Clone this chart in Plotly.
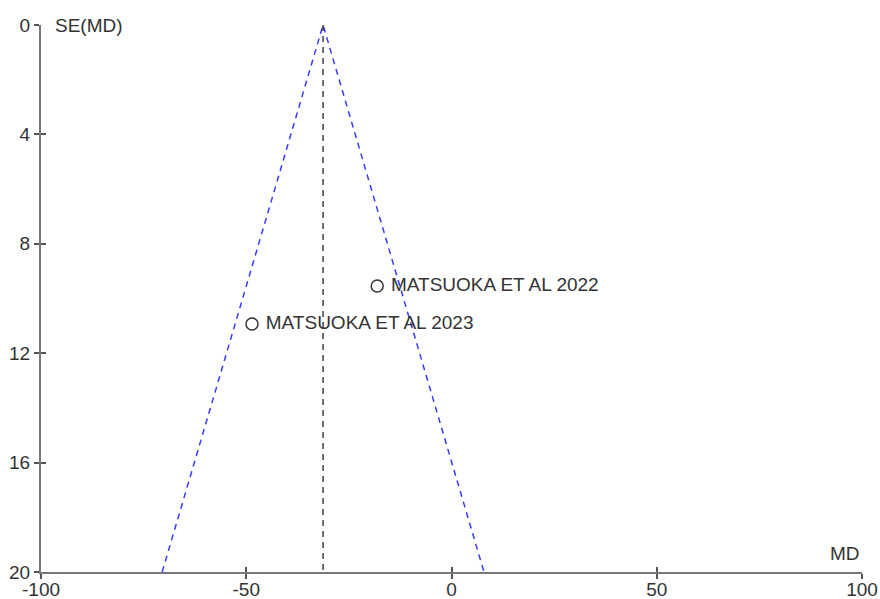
import plotly.graph_objects as go

# Study estimates: mean difference and its standard error
studies = ["MATSUOKA ET AL 2022", "MATSUOKA ET AL 2023"]
md = [-18.1, -48.6]
se = [9.54, 10.93]

x_ticks = [-100, -50, 0, 50, 100]
x_labels = ["-100", "-50", "0", "50", "100"]
y_ticks = [0, 4, 8, 12, 16, 20]
se_max = 20

# Fixed-effect (inverse-variance) pooled estimate
w = [1 / s ** 2 for s in se]
pooled = sum(wi * m for wi, m in zip(w, md)) / sum(w)

font = dict(family="Liberation Sans, Arial, sans-serif", size=19, color="#333333")

fig = go.Figure()

# 95% pseudo-confidence funnel
fig.add_trace(go.Scatter(
    x=[pooled - 1.96 * se_max, pooled, pooled + 1.96 * se_max],
    y=[se_max, 0, se_max],
    mode="lines",
    line=dict(color="#3a3aff", width=1.5, dash="6px,5px"),
    hoverinfo="skip",
))

# Pooled estimate line
fig.add_trace(go.Scatter(
    x=[pooled, pooled], y=[0, se_max],
    mode="lines",
    line=dict(color="#222222", width=1.3, dash="6px,5px"),
    hoverinfo="skip",
))

# Individual studies
fig.add_trace(go.Scatter(
    x=md, y=se, text=[" " + s for s in studies],
    mode="markers+text",
    textposition="middle right",
    textfont=font,
    marker=dict(symbol="circle-open", size=12, color="#333333", line=dict(width=1.5)),
))

axis_common = dict(
    showgrid=False, zeroline=False, automargin=False,
    showline=True, linecolor="#777777", linewidth=2,
    ticks="outside", ticklen=5, tickwidth=1.5, tickcolor="#555555",
    tickfont=font,
)

inner_ticks = dict(
    ticks="inside", ticklen=5, tickwidth=1.5, tickcolor="#555555",
    showticklabels=False, showgrid=False, zeroline=False, showline=False,
    automargin=False,
)

fig.update_layout(
    width=880, height=599,
    margin=dict(l=41, r=18, t=25, b=27),
    plot_bgcolor="white", paper_bgcolor="white",
    showlegend=False,
    xaxis=dict(range=[-100, 100], tickvals=x_ticks, ticktext=x_labels,
               ticklabelstandoff=-6, **axis_common),
    yaxis=dict(range=[se_max, 0], tickvals=y_ticks, **axis_common),
    # inward tick marks so the ticks cross the axis lines
    xaxis2=dict(range=[-100, 100], overlaying="x", side="bottom", tickvals=x_ticks, **inner_ticks),
    yaxis2=dict(range=[se_max, 0], overlaying="y", side="left", tickvals=y_ticks, **inner_ticks),
    annotations=[
        dict(text="SE(MD)", xref="paper", yref="paper", x=0, y=1, xshift=12,
             xanchor="left", yanchor="middle", showarrow=False, font=font),
        dict(text="MD", xref="paper", yref="paper", x=1, y=0, yshift=6,
             xanchor="right", yanchor="bottom", showarrow=False, font=font),
    ],
)

# empty trace attaching the secondary axes
fig.add_trace(go.Scatter(x=[None], y=[None], xaxis="x2", yaxis="y2", hoverinfo="skip"))

fig.write_html("out.html")
